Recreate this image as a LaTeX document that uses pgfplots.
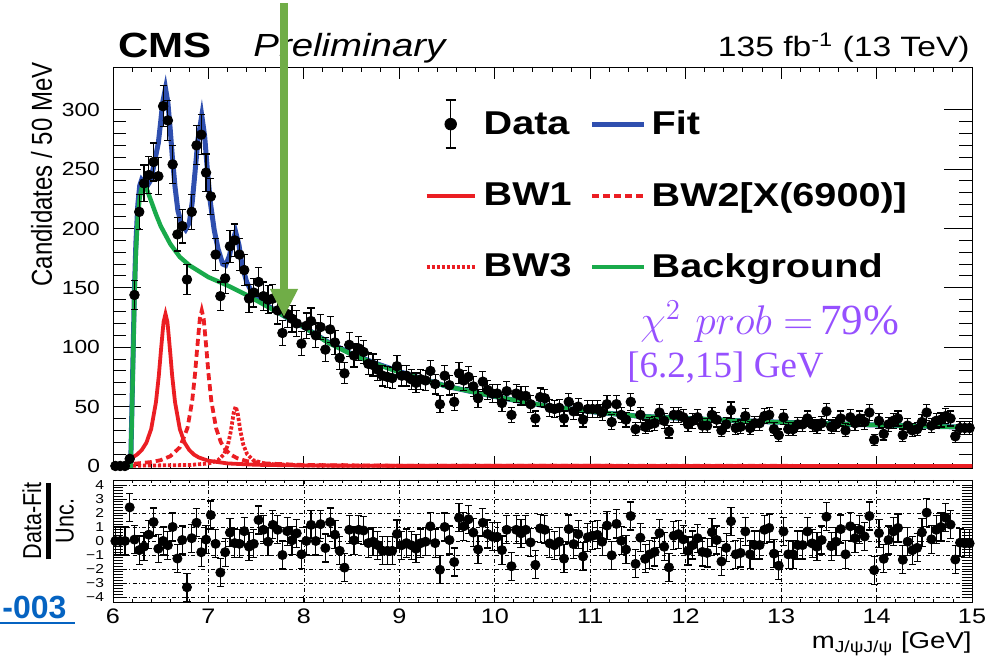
\documentclass[border=0pt]{standalone}
\usepackage{amsmath}
\usepackage{graphicx}
\usepackage{pgfplots}
\pgfplotsset{compat=1.18}
\usepackage{pgfplotstable}
\usepackage{fontspec}
\setmainfont{Liberation Sans}[FakeStretch=1.2]
\newfontfamily\rotfont{Liberation Sans}
\newfontfamily\timesfont{Liberation Serif}
\usetikzlibrary{arrows.meta}
\newcommand\fs[1]{\fontsize{#1}{#1}\selectfont}
\definecolor{fitblue}{RGB}{47,79,175}
\definecolor{bwred}{RGB}{235,30,35}
\definecolor{bkgreen}{RGB}{25,170,75}
\definecolor{arrowgreen}{RGB}{112,173,71}
\definecolor{chipurple}{RGB}{150,80,255}
\definecolor{linkblue}{RGB}{5,99,193}

\pgfplotstableread{
x y
6.025 0
6.075 0
6.125 0
6.175 6
6.225 144
6.275 214
6.325 238
6.375 245
6.425 256
6.475 244
6.525 303
6.575 291
6.625 254
6.675 195
6.725 202
6.775 157
6.825 214
6.875 270
6.925 279
6.975 247
7.025 227
7.075 178
7.125 143
7.175 158
7.225 185
7.275 190
7.325 178
7.375 165
7.425 141
7.475 146
7.525 155
7.575 143
7.625 140
7.675 141
7.725 131
7.775 112
7.825 128
7.875 124
7.925 120
7.975 103
8.025 118
8.075 122
8.125 110
8.175 117
8.225 98
8.275 115
8.325 104
8.375 91
8.425 78
8.475 102
8.525 93
8.575 99
8.625 96
8.675 86
8.725 85
8.775 81
8.825 76
8.875 75
8.925 74
8.975 84
9.025 76
9.075 76
9.125 73
9.175 70
9.225 73
9.275 72
9.325 80
9.375 69
9.425 52
9.475 76
9.525 68
9.575 54
9.625 78
9.675 72
9.725 75
9.775 67
9.825 57
9.875 71
9.925 64
9.975 61
10.025 61
10.075 53
10.125 63
10.175 43
10.225 61
10.275 59
10.325 59
10.375 52
10.425 40
10.475 58
10.525 57
10.575 49
10.625 48
10.675 49
10.725 40
10.775 54
10.825 46
10.875 50
10.925 39
10.975 48
11.025 48
11.075 48
11.125 45
11.175 52
11.225 37
11.275 52
11.325 43
11.375 39
11.425 54
11.475 31
11.525 43
11.575 33
11.625 35
11.675 36
11.725 45
11.775 38
11.825 29
11.875 43
11.925 43
11.975 41
12.025 35
12.075 38
12.125 41
12.175 34
12.225 34
12.275 43
12.325 39
12.375 30
12.425 35
12.475 47
12.525 32
12.575 33
12.625 42
12.675 32
12.725 36
12.775 36
12.825 42
12.875 43
12.925 31
12.975 26
13.025 41
13.075 31
13.125 31
13.175 35
13.225 35
13.275 40
13.325 35
13.375 33
13.425 36
13.475 46
13.525 33
13.575 35
13.625 40
13.675 30
13.725 41
13.775 36
13.825 40
13.875 37
13.925 45
13.975 22
14.025 38
14.075 27
14.125 35
14.175 38
14.225 40
14.275 26
14.325 34
14.375 30
14.425 31
14.475 37
14.525 45
14.575 34
14.625 38
14.675 39
14.725 42
14.775 40
14.825 25
14.875 32
14.925 32
14.975 32
}\datatab

\pgfplotstableread{
x p
6.025 0
6.075 0
6.125 0
6.175 2.4
6.225 0.1
6.275 -0.65
6.325 -0.4
6.375 0.45
6.425 1.35
6.475 -0.55
6.525 0
6.575 -0.3
6.625 1.0
6.675 -1.25
6.725 0.07
6.775 -3.3
6.825 0.2
6.875 1.3
6.925 -0.8
6.975 0.1
7.025 1.85
7.075 -0.2
7.125 -2.25
7.175 -0.8
7.225 0.6
7.275 -0.15
7.325 -0.2
7.375 0.7
7.425 -0.4
7.475 -0.2
7.525 1.5
7.575 0.8
7.625 -0.05
7.675 1.15
7.725 0.8
7.775 -1.0
7.825 0.7
7.875 0.05
7.925 0.55
7.975 -0.95
8.025 0
8.075 1.15
8.125 0
8.175 1.2
8.225 -0.5
8.275 1.35
8.325 0.45
8.375 -0.7
8.425 -1.9
8.475 0.8
8.525 0.05
8.575 0.8
8.625 0.75
8.675 -0.15
8.725 -0.05
8.775 -0.3
8.825 -0.7
8.875 -0.7
8.925 -0.7
8.975 0.5
9.025 -0.3
9.075 -0.15
9.125 -0.3
9.175 -0.55
9.225 -0.15
9.275 -0.05
9.325 1.05
9.375 -0.15
9.425 -2.05
9.475 1.0
9.525 0.07
9.575 -1.5
9.625 1.65
9.675 1.05
9.725 1.55
9.775 0.6
9.825 -0.6
9.875 1.3
9.925 0.5
9.975 0.3
10.025 0.3
10.075 -0.65
10.125 0.8
10.175 -1.8
10.225 0.8
10.275 0.55
10.325 0.8
10.375 -0.1
10.425 -1.7
10.475 0.9
10.525 0.8
10.575 -0.17
10.625 -0.3
10.675 -0.05
10.725 -1.26
10.775 0.85
10.825 -0.22
10.875 0.49
10.925 -1.1
10.975 0.27
11.025 0.37
11.075 0.44
11.125 -0.05
11.175 1.1
11.225 -1.02
11.275 1.22
11.325 0.02
11.375 -0.61
11.425 1.78
11.475 -1.63
11.525 0.24
11.575 -1.27
11.625 -0.95
11.675 -0.78
11.725 0.56
11.775 -0.41
11.825 -1.88
11.875 0.37
11.925 0.49
11.975 0.12
12.025 -0.71
12.075 -0.29
12.125 0.2
12.175 -0.78
12.225 -0.85
12.275 0.63
12.325 0.07
12.375 -1.46
12.425 -0.49
12.475 1.41
12.525 -0.95
12.575 -0.85
12.625 0.68
12.675 -0.95
12.725 -0.29
12.775 -0.29
12.825 0.8
12.875 0.93
12.925 -0.9
12.975 -1.76
13.025 0.68
13.075 -0.95
13.125 -0.95
13.175 -0.29
13.225 -0.29
13.275 0.68
13.325 -0.17
13.375 -0.41
13.425 0.07
13.475 1.73
13.525 -0.37
13.575 -0.05
13.625 0.85
13.675 -0.95
13.725 1.05
13.775 0.2
13.825 0.8
13.875 0.32
13.925 1.78
13.975 -2.08
14.025 0.56
14.075 -1.27
14.125 0.07
14.175 0.68
14.225 0.93
14.275 -1.34
14.325 -0.05
14.375 -0.66
14.425 -0.49
14.475 0.61
14.525 2.02
14.575 0.12
14.625 0.8
14.675 1.0
14.725 1.66
14.775 1.17
14.825 -1.32
14.875 -0.12
14.925 -0.17
14.975 -0.17
}\pulltab

\begin{document}
\begin{tikzpicture}
\path[use as bounding box] (0,0) rectangle (502.5pt,328.5pt);

\begin{axis}[
  at={(56.5pt,94.5pt)}, anchor=south west, scale only axis,
  width=429.5pt, height=200.5pt,
  xmin=6, xmax=15, ymin=-1.7, ymax=336,
  xtick={6,...,15}, xticklabels={}, minor x tick num=4,
  ytick={0,50,...,300}, minor y tick num=4,
  tick align=inside,
  major tick length=14pt, minor tick length=6.5pt,
  xtick style={/pgfplots/major tick length=6pt,/pgfplots/minor tick length=2.5pt},
  tick style={black, line width=0.5pt},
  yticklabel style={font=\fs{9.5}, xshift=-3pt},
  /pgf/number format/assume math mode=true,
  legend columns=2, legend cell align=left,
  legend style={draw=none, fill=none, at={(0.3625,0.92)}, anchor=north west,
    font=\bfseries\fs{16.5}, inner sep=0pt, row sep=11.5pt, nodes={inner sep=0pt},
    /tikz/every odd column/.append style={column sep=2.5pt},
    /tikz/every even column/.append style={column sep=9pt}},
]
\addlegendimage{legend image code/.code={
  \path[draw=none] (0pt,-12pt) (26pt,12pt);
  \draw[black,line width=0.7pt] (12pt,-12pt)--(12pt,12pt);
  \draw[black,line width=0.7pt] (9.5pt,12pt)--(14.5pt,12pt);
  \draw[black,line width=0.7pt] (9.5pt,-12pt)--(14.5pt,-12pt);
  \fill[black] (12pt,0pt) circle (2.9pt);}}
\addlegendentry{Data}
\addlegendimage{legend image code/.code={
  \path[draw=none] (0pt,-12pt) (26pt,12pt);
  \draw[fitblue,line width=2.5pt] (0pt,0pt)--(26pt,0pt);}}
\addlegendentry{Fit}
\addlegendimage{legend image code/.code={
  \path[draw=none] (0pt,-12pt) (26pt,12pt);
  \draw[bwred,line width=1.9pt] (0pt,0pt)--(24pt,0pt);}}
\addlegendentry{BW1}
\addlegendimage{legend image code/.code={
  \path[draw=none] (0pt,-12pt) (26pt,12pt);
  \draw[bwred,line width=1.9pt,dash pattern=on 3.5pt off 2pt] (0pt,0pt)--(26pt,0pt);}}
\addlegendentry{BW2[X(6900)]}
\addlegendimage{legend image code/.code={
  \path[draw=none] (0pt,-12pt) (26pt,12pt);
  \draw[bwred,line width=1.9pt,dash pattern=on 1.6pt off 0.9pt] (0pt,0pt)--(24pt,0pt);}}
\addlegendentry{BW3}
\addlegendimage{legend image code/.code={
  \path[draw=none] (0pt,-12pt) (26pt,12pt);
  \draw[bkgreen,line width=2.2pt] (0pt,0pt)--(26pt,0pt);}}
\addlegendentry{Background}

% Fit
\addplot[fitblue, line width=2.5pt, forget plot] coordinates {
(6.0,0)(6.185,0)(6.20,55)(6.215,112)(6.225,150)(6.24,188)(6.26,220)(6.28,236)(6.30,241)
(6.33,238)(6.36,236)(6.39,240)(6.42,250)(6.45,262)(6.475,272)(6.50,290)(6.52,306)(6.55,318)
(6.575,306)(6.60,283)(6.62,262)(6.65,235)(6.68,215)(6.72,203)(6.76,199)(6.80,205)(6.83,222)
(6.86,248)(6.89,275)(6.93,295)(6.96,278)(6.99,248)(7.02,222)(7.06,199)(7.10,183)(7.15,170)
(7.18,169)(7.22,177)(7.25,189)(7.285,197)(7.32,186)(7.35,170)(7.40,155)(7.45,147)(7.50,142)
(7.6,136)(7.7,131)(7.8,126)(7.9,121)(8.0,117)(8.25,104.5)(8.5,94.5)(8.75,86.5)(9.0,79.5)
(9.5,67)(10.0,58.5)(10.5,51)(11.0,45.8)(11.5,42)(12.0,40)(12.5,38.3)(13.0,36.8)(13.5,35.6)
(14.0,34.5)(14.5,33.5)(15.0,32.6)};
% BW1
\addplot[bwred, line width=1.9pt, forget plot] coordinates {
(6.0,0)(6.185,0)(6.2,7)(6.25,9.5)(6.30,13.3)(6.35,19.6)(6.40,31.1)(6.45,53.7)(6.48,76)
(6.50,95.1)(6.52,113)(6.53,121.3)(6.55,128)(6.57,121.3)(6.58,113)(6.60,95.1)(6.62,76)
(6.65,53.7)(6.70,31.1)(6.75,19.6)(6.80,13.3)(6.85,9.5)(6.90,7.1)(7.0,4.4)(7.2,2.15)
(7.5,1.0)(8.0,0.4)(9,0.1)(15,0)};
% BW2
\addplot[bwred, line width=1.9pt, dash pattern=on 3.5pt off 2pt, forget plot] coordinates {
(6.0,0)(6.185,0)(6.2,1.7)(6.4,3.3)(6.5,4.9)(6.6,8.2)(6.7,15.7)(6.78,31.9)(6.83,54.9)
(6.86,78)(6.88,97.3)(6.91,124.1)(6.93,131)(6.95,124.1)(6.98,97.3)(7.0,78)(7.03,54.9)
(7.08,31.9)(7.13,20)(7.18,13.6)(7.23,9.7)(7.3,6.6)(7.4,4.1)(7.6,2.1)(8.0,0.8)(9,0.2)(15,0)};
% BW3
\addplot[bwred, line width=1.9pt, dash pattern=on 1.6pt off 0.9pt, forget plot] coordinates {
(6.0,0)(6.185,0)(6.2,0.2)(6.8,0.8)(7.0,2.1)(7.1,4.8)(7.165,10)(7.205,18)(7.235,29.5)
(7.265,45)(7.285,50)(7.305,45)(7.335,29.5)(7.365,18)(7.405,10)(7.47,4.8)(7.6,1.8)
(8.0,0.35)(9,0.06)(15,0)};
% Background
\addplot[bkgreen, line width=2.2pt, forget plot] coordinates {
(6.0,0)(6.185,0)(6.20,50)(6.215,105)(6.225,143)(6.24,180)(6.26,210)(6.28,226)(6.30,234)
(6.32,238)(6.35,234)(6.40,223)(6.45,212)(6.5,202)(6.6,187)(6.7,176)(6.8,169)(6.9,164)
(7.0,159)(7.2,152)(7.4,144)(7.6,135)(7.8,126)(8.0,117)(8.25,104)(8.5,94)(8.75,86)(9.0,79)
(9.5,67)(10.0,58.5)(10.5,51)(11.0,45.8)(11.5,42)(12.0,40)(12.5,38.3)(13.0,36.8)(13.5,35.6)
(14.0,34.5)(14.5,33.5)(15.0,32.6)};
% Data
\addplot[black, only marks, mark=*, mark size=2.4pt, forget plot,
  error bars/.cd, y dir=both, y explicit,
  error bar style={black, line width=0.6pt},
  error mark options={rotate=90, mark size=1.8pt, black, line width=0.6pt}]
  table[x=x, y=y, y error expr={sqrt(\thisrow{y})}] {\datatab};
\end{axis}

\begin{axis}[
  at={(56.5pt,27.5pt)}, anchor=south west, scale only axis,
  width=429.5pt, height=61pt,
  xmin=6, xmax=15, ymin=-4.35, ymax=4.35,
  xtick={6,...,15}, minor x tick num=4,
  ytick={-4,...,4}, yticklabels={−4,−3,−2,−1,0,1,2,3,4}, minor y tick num=4,
  grid=major, major grid style={black, line width=0.35pt, dash pattern=on 2pt off 1.2pt on 0.5pt off 1.2pt},
  tick align=inside,
  major tick length=5pt, minor tick length=5pt,
  xtick style={/pgfplots/major tick length=3pt,/pgfplots/minor tick length=1.5pt},
  tick style={black, line width=0.4pt},
  xticklabel style={font=\fs{10.5}},
  yticklabel style={font=\fs{6.5}, xshift=-1pt},
  /pgf/number format/assume math mode=true,
]
\addplot[black, only marks, mark=*, mark size=2.3pt,
  error bars/.cd, y dir=both, y fixed=1,
  error bar style={black, line width=0.6pt},
  error mark options={rotate=90, mark size=1.8pt, black, line width=0.6pt}]
  table[x=x, y=p] {\pulltab};
\end{axis}

% titles
\node[anchor=base west, inner sep=0pt, font=\bfseries\fs{17.5}] at (59pt,299.5pt) {CMS};
\node[anchor=base west, inner sep=0pt, font=\itshape\fs{16}] at (126.5pt,300pt) {Preliminary};
\node[anchor=base east, inner sep=0pt, font=\fs{14}] at (485pt,300pt) {135 fb\textsuperscript{-1} (13 TeV)};
% y labels
\node[anchor=base east, rotate=90, inner sep=0pt] at (26pt,297.5pt) {\scalebox{1}[1.2]{\rotfont\fs{12}Candidates / 50 MeV}};
\node[rotate=90, inner sep=0pt] at (24pt,68pt) {\scalebox{1}[1.2]{$\genfrac{}{}{2pt}{}{\mbox{\rotfont\fs{10.8}Data-Fit}}{\mbox{\rotfont\fs{10.8}Unc.}}$}};
% x label
\node[anchor=base east, inner sep=0pt, font=\fs{11.5}] at (486pt,4pt) {m\textsubscript{J/ψJ/ψ} [GeV]};
% purple annotation
\node[anchor=base west, inner sep=0pt, text=chipurple] at (320pt,161pt) {\fontsize{21.5}{21.5}\selectfont$\chi^2\ prob = $\,{\timesfont\fs{21.5}79\%}};
\node[anchor=base west, inner sep=0pt, text=chipurple] at (313.5pt,139.5pt) {\timesfont\fs{18.5}[6.2,15] GeV};
% link fragment
\node[anchor=base west, inner sep=0pt, text=linkblue] at (1pt,19pt) {\rotfont\bfseries\fs{16}-003};
\draw[linkblue, line width=1pt] (0pt,17pt) -- (37.5pt,17pt);
% green arrow
\draw[arrowgreen, line width=4pt, -{Triangle[width=13pt,length=14pt]}] (142pt,327pt) -- (142pt,170pt);
\end{tikzpicture}
\end{document}
